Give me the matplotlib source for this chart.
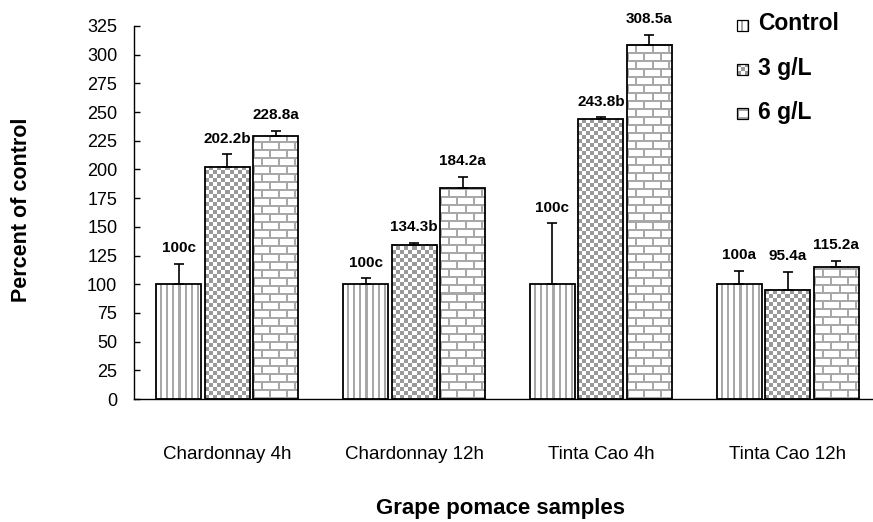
import numpy as np
import matplotlib
matplotlib.use("Agg")
import matplotlib.pyplot as plt
import matplotlib.patches as patches
from matplotlib.transforms import IdentityTransform

plt.rcParams['font.family'] = ['Liberation Sans', 'DejaVu Sans']

# Dados
amostras = ['Chardonnay 4h', 'Chardonnay 12h', 'Tinta Cao 4h', 'Tinta Cao 12h']
tratamentos = ['Control', '3 g/L', '6 g/L']
controle = [100, 100, 100, 100]
g3 = [202.2, 134.3, 243.8, 95.4]
g6 = [228.8, 184.2, 308.5, 115.2]
erro_controle = [17.5, 5, 53, 11.5]
erro_g3 = [11, 1.5, 1.5, 15]
erro_g6 = [5, 9.5, 8.5, 5]
letras_controle = ['c', 'c', 'c', 'a']
letras_g3 = ['b', 'b', 'b', 'a']
letras_g6 = ['a', 'a', 'a', 'a']

W, H = 873, 522


def textura(tipo, h, w):
    # preenchimento em pixels: listras, xadrez ou tijolos
    img = np.ones((h, w, 3))
    yy, xx = np.mgrid[0:h, 0:w]
    if tipo == 'listras':
        mask = (xx % 6) >= 4
        cor = 0.66
    elif tipo == 'xadrez':
        mask = ((xx // 4) + (yy // 4)) % 2 == 0
        cor = 0.6
    else:
        desloc = ((yy // 8) % 2) * 8
        mask = (yy % 8 < 2) | ((xx + desloc) % 16 < 2)
        cor = 0.66
    img[mask] = cor
    return img


fig = plt.figure(figsize=(W / 100, H / 100), dpi=100)
ax = fig.add_axes([134 / W, 1 - 399 / H, 747 / W, 373 / H])
ax.set_xlim(-0.5, 3.5)
ax.set_ylim(0, 325)

x = np.arange(len(amostras))
largura = 0.241
passo = 0.26
series = [
    (controle, erro_controle, letras_controle, 'listras'),
    (g3, erro_g3, letras_g3, 'xadrez'),
    (g6, erro_g6, letras_g6, 'tijolos'),
]

for i, (vals, erros, letras, tipo) in enumerate(series):
    xs = x + (i - 1) * passo
    barras = ax.bar(xs, vals, largura, facecolor='none', edgecolor='black',
                    linewidth=1.3, zorder=3)
    for b in barras:
        (px0, py0), (px1, py1) = ax.transData.transform(
            [(b.get_x(), 0), (b.get_x() + b.get_width(), b.get_height())])
        w = max(int(round(px1 - px0)), 1)
        h = max(int(round(py1 - py0)), 1)
        ax.imshow(textura(tipo, h, w),
                  extent=(b.get_x(), b.get_x() + b.get_width(), 0, b.get_height()),
                  origin='lower', aspect='auto', interpolation='nearest', zorder=2)
    ax.errorbar(xs, vals, yerr=[np.zeros(len(vals)), erros], fmt='none',
                ecolor='black', elinewidth=1.2, capsize=3.5, capthick=1.2, zorder=4)
    for xc, v, e, l in zip(xs, vals, erros, letras):
        ax.annotate(f"{v:g}{l}", (xc, v + e), xytext=(0, 8.5),
                    textcoords='offset points', ha='center', va='baseline',
                    fontsize=11, fontweight='bold')

ax.set_xlim(-0.5, 3.5)
ax.set_ylim(0, 325)

ax.set_yticks(np.arange(0, 326, 25))
ax.tick_params(axis='y', direction='in', length=4, width=1, pad=12, labelsize=13)
ax.set_xticks(x, amostras)
ax.tick_params(axis='x', length=0, pad=34, labelsize=13.5)
for lado in ['top', 'right']:
    ax.spines[lado].set_visible(False)
for lado in ['left', 'bottom']:
    ax.spines[lado].set_linewidth(1)
    ax.spines[lado].set_color('black')

# Títulos dos eixos
fig.text(22, H - 210, 'Percent of control', transform=IdentityTransform(),
         rotation=90, ha='center', va='center', fontsize=15.5, fontweight='bold')
ax.set_xlabel('Grape pomace samples', fontsize=16, fontweight='bold')
ax.xaxis.set_label_coords(0.49, -0.265)

# Legenda
bases = [30.5, 75, 119]
tipos = ['listras', 'xadrez', 'tijolos']
for nome, base, tipo in zip(tratamentos, bases, tipos):
    y0 = H - base
    fig.figimage(textura(tipo, 11, 11), xo=737, yo=int(y0), origin='lower', zorder=5)
    fig.add_artist(patches.Rectangle((737, int(y0)), 11, 11, facecolor='none',
                                     edgecolor='black', linewidth=0.9,
                                     transform=IdentityTransform(), zorder=6))
    fig.text(758, y0, nome, transform=IdentityTransform(), va='baseline',
             ha='left', fontsize=16.5, fontweight='bold')

fig.savefig('out.png', dpi=100)
